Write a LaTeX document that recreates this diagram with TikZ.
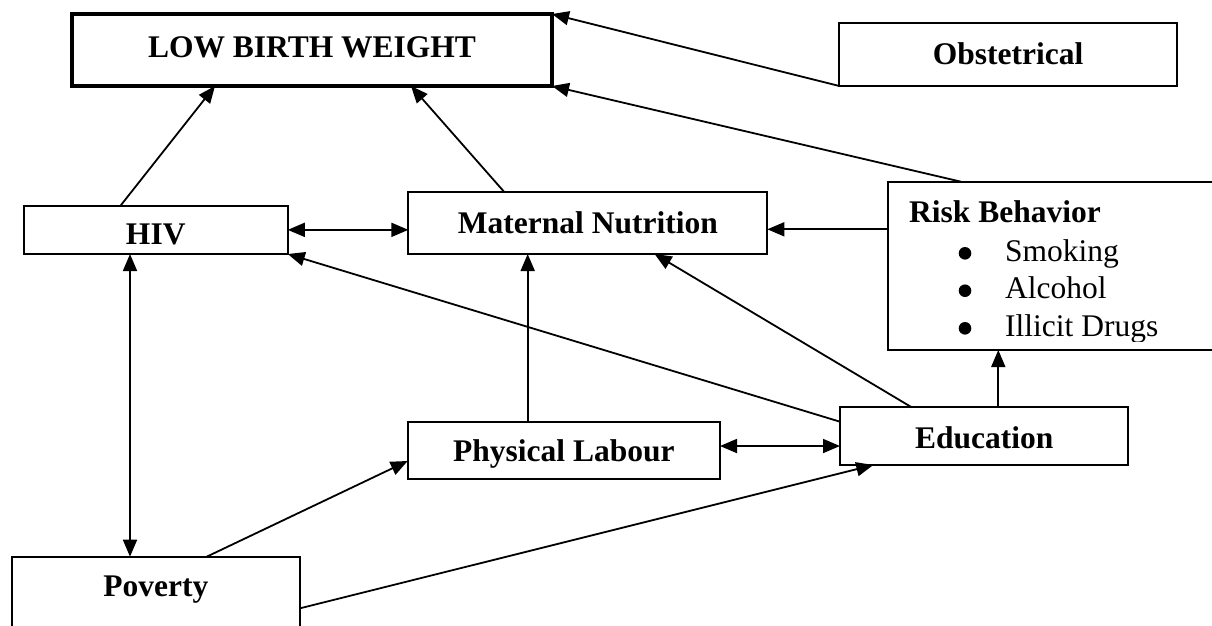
\documentclass[tikz,border=0pt]{standalone}
\usepackage{fontspec}
\setmainfont{Liberation Serif}
\usetikzlibrary{arrows.meta,calc}
\begin{document}
\begin{tikzpicture}[x=1pt,y=-1pt,
  box/.style={draw, line width=2.2pt, rectangle, inner sep=0pt, outer sep=0pt,
    font=\fontsize{31.5}{37}\selectfont\bfseries, text depth=0pt},
  conn/.style={line width=1.8pt},
  arr/.style={conn, -{Triangle[length=17pt,width=14pt]}},
  darr/.style={conn, {Triangle[length=17pt,width=14pt]}-{Triangle[length=17pt,width=14pt]}},
  item/.style={anchor=base west, inner sep=0pt, font=\fontsize{31.5}{37}\selectfont},
  bul/.style={fill=black}
  ]
\useasboundingbox (0,0) rectangle (1212,625);
\clip (0,0) rectangle (1212,625);

% boxes
\node[box, line width=4.5pt, minimum width=480pt, minimum height=72pt, text height=14pt] (lbw) at (312,50) {LOW BIRTH WEIGHT};
\node[box, minimum width=337.4pt, minimum height=62.7pt, text height=20.6pt] (obs) at (1008,54.65) {Obstetrical};
\node[box, minimum width=264pt, minimum height=48.3pt, text height=30pt] (hiv) at (155.75,229.85) {HIV};
\node[box, minimum width=359pt, minimum height=62.3pt, text height=20.3pt] (mat) at (587.85,222.85) {Maternal Nutrition};
\node[box, minimum width=352.3pt, minimum height=168.3pt] (risk) at (1063.85,265.85) {};
\node[box, minimum width=312.3pt, minimum height=57pt, text height=21.8pt] (phys) at (563.85,450.8) {Physical Labour};
\node[box, minimum width=288.3pt, minimum height=57.7pt, text height=24.2pt] (edu) at (984.15,436.15) {Education};
\node[box, minimum width=288.3pt, minimum height=73.3pt, text height=6.7pt] (pov) at (155.85,593.35) {Poverty};

% risk behaviour contents
\begin{scope}
  \clip (887.7,181.7) rectangle (1212,341);
  \node[item, font=\fontsize{31.5}{37}\selectfont\bfseries] (rt) at (909,222.7) {Risk Behavior};
  \fill[bul] (965,253.3) circle (6.3pt);
  \node[item] (r1) at (1005,261.7) {Smoking};
  \fill[bul] (965,290.7) circle (6.3pt);
  \node[item] (r2) at (1005,298.3) {Alcohol};
  \fill[bul] (965,328.3) circle (6.3pt);
  \node[item] (r3) at (1005,336) {Illicit Drugs};
\end{scope}

% connectors
\draw[arr] ([xshift=-35.25pt]hiv.north) -- ([xshift=-97pt]lbw.south);
\draw[arr] ([xshift=-83.85pt]mat.north) -- ([xshift=99pt]lbw.south);
\draw[arr] (obs.south west) -- (lbw.north east);
\draw[arr] ([xshift=73.3pt]risk.north west) -- (lbw.south east);
\draw[darr] (hiv.east) -- (hiv.east -| mat.west);
\coordinate (mr) at ([yshift=-6.45pt]mat.east);
\draw[arr] (risk.west |- mr) -- (mr);
\draw[arr] ([yshift=14.45pt]edu.west) -- (hiv.south east);
\draw[arr] ([xshift=-72.45pt]edu.north) -- ([xshift=66.75pt]mat.south);
\coordinate (pm) at ([xshift=-36.15pt]phys.north);
\draw[arr] (pm) -- (pm |- mat.south);
\coordinate (hp) at ([xshift=-25.75pt]hiv.south);
\draw[darr] (hp) -- (hp |- pov.north);
\draw[arr] ([xshift=50.85pt]pov.north) -- ([yshift=-10.2pt]phys.west);
\draw[arr] ([yshift=-14.95pt]pov.east) -- ([xshift=-110.85pt]edu.south);
\coordinate (er) at ([xshift=14.15pt]edu.north);
\draw[arr] (er) -- (er |- risk.south);
\coordinate (pe) at ([yshift=4.8pt]phys.east);
\draw[darr] (pe) -- (pe -| edu.west);
\end{tikzpicture}
\end{document}
